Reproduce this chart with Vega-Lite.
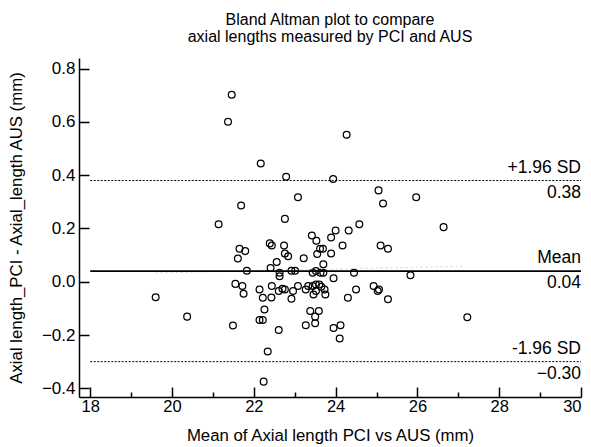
{
  "$schema": "https://vega.github.io/schema/vega-lite/v6.json",
  "autosize": "none",
  "width": 502,
  "height": 339,
  "padding": {"left": 79, "top": 58, "right": 10, "bottom": 50},
  "background": "white",
  "config": {
    "view": {"stroke": null},
    "font": "Liberation Sans",
    "axis": {
      "domainColor": "black",
      "domainWidth": 1.5,
      "tickColor": "black",
      "tickWidth": 1.5,
      "labelColor": "black",
      "titleColor": "black",
      "labelFont": "Liberation Sans",
      "titleFont": "Liberation Sans",
      "labelFontSize": 16.5,
      "titleFontSize": 16.8,
      "titleFontWeight": "normal",
      "grid": false
    }
  },
  "title": {
    "text": ["Bland Altman plot to compare", "axial lengths measured by PCI and AUS"],
    "font": "Liberation Sans",
    "fontSize": 16,
    "fontWeight": "normal",
    "color": "black",
    "lineHeight": 17,
    "anchor": "middle",
    "offset": 13
  },
  "datasets": {
    "pairs": [
      {"mean": 21.46, "diff": 0.702}, {"mean": 21.37, "diff": 0.601}, {"mean": 24.27, "diff": 0.552},
      {"mean": 22.17, "diff": 0.444}, {"mean": 22.79, "diff": 0.394}, {"mean": 23.94, "diff": 0.386},
      {"mean": 25.05, "diff": 0.343}, {"mean": 23.08, "diff": 0.317}, {"mean": 25.16, "diff": 0.294},
      {"mean": 21.69, "diff": 0.286}, {"mean": 22.76, "diff": 0.236}, {"mean": 21.14, "diff": 0.216},
      {"mean": 24.58, "diff": 0.216}, {"mean": 24.32, "diff": 0.192}, {"mean": 24.0, "diff": 0.192},
      {"mean": 23.42, "diff": 0.174}, {"mean": 23.89, "diff": 0.166}, {"mean": 23.53, "diff": 0.154},
      {"mean": 22.39, "diff": 0.144}, {"mean": 22.44, "diff": 0.136}, {"mean": 22.74, "diff": 0.136},
      {"mean": 24.17, "diff": 0.136}, {"mean": 25.1, "diff": 0.136}, {"mean": 25.28, "diff": 0.124},
      {"mean": 21.65, "diff": 0.124}, {"mean": 21.79, "diff": 0.115}, {"mean": 23.62, "diff": 0.124},
      {"mean": 23.69, "diff": 0.124}, {"mean": 23.55, "diff": 0.104}, {"mean": 23.89, "diff": 0.106},
      {"mean": 22.76, "diff": 0.106}, {"mean": 22.84, "diff": 0.096}, {"mean": 21.61, "diff": 0.087},
      {"mean": 23.22, "diff": 0.088}, {"mean": 22.56, "diff": 0.074}, {"mean": 23.7, "diff": 0.066},
      {"mean": 22.41, "diff": 0.052}, {"mean": 21.83, "diff": 0.041}, {"mean": 22.63, "diff": 0.034},
      {"mean": 22.63, "diff": 0.021}, {"mean": 22.92, "diff": 0.041}, {"mean": 23.01, "diff": 0.041},
      {"mean": 23.44, "diff": 0.034}, {"mean": 23.52, "diff": 0.04}, {"mean": 23.63, "diff": 0.034},
      {"mean": 23.7, "diff": 0.034}, {"mean": 24.45, "diff": 0.034}, {"mean": 23.95, "diff": 0.013},
      {"mean": 21.55, "diff": -0.008}, {"mean": 21.72, "diff": -0.016}, {"mean": 21.75, "diff": -0.045},
      {"mean": 22.14, "diff": -0.029}, {"mean": 22.22, "diff": -0.06}, {"mean": 22.43, "diff": -0.059},
      {"mean": 22.44, "diff": -0.016}, {"mean": 22.61, "diff": -0.035}, {"mean": 22.7, "diff": -0.026},
      {"mean": 22.76, "diff": -0.029}, {"mean": 22.92, "diff": -0.064}, {"mean": 22.96, "diff": -0.035},
      {"mean": 23.08, "diff": -0.016}, {"mean": 23.27, "diff": -0.029}, {"mean": 23.33, "diff": -0.016},
      {"mean": 23.44, "diff": -0.016}, {"mean": 23.52, "diff": -0.01}, {"mean": 23.6, "diff": -0.01},
      {"mean": 23.46, "diff": -0.048}, {"mean": 23.52, "diff": -0.035}, {"mean": 23.73, "diff": -0.029},
      {"mean": 23.75, "diff": -0.048}, {"mean": 23.65, "diff": -0.019}, {"mean": 24.5, "diff": -0.029},
      {"mean": 24.3, "diff": -0.06}, {"mean": 24.93, "diff": -0.016}, {"mean": 25.06, "diff": -0.029},
      {"mean": 25.03, "diff": -0.035}, {"mean": 25.28, "diff": -0.066}, {"mean": 19.6, "diff": -0.058},
      {"mean": 20.37, "diff": -0.131}, {"mean": 21.49, "diff": -0.164}, {"mean": 22.14, "diff": -0.144},
      {"mean": 22.22, "diff": -0.144}, {"mean": 22.26, "diff": -0.104}, {"mean": 22.61, "diff": -0.181},
      {"mean": 23.38, "diff": -0.11}, {"mean": 23.59, "diff": -0.11}, {"mean": 23.5, "diff": -0.131},
      {"mean": 23.5, "diff": -0.156}, {"mean": 23.27, "diff": -0.163}, {"mean": 23.95, "diff": -0.174},
      {"mean": 24.12, "diff": -0.163}, {"mean": 24.1, "diff": -0.213}, {"mean": 22.34, "diff": -0.262},
      {"mean": 22.24, "diff": -0.375}, {"mean": 25.97, "diff": 0.317}, {"mean": 26.64, "diff": 0.205},
      {"mean": 25.83, "diff": 0.024}, {"mean": 27.22, "diff": -0.133}
    ],
    "limits": [
      {"stat": "+1.96 SD", "value": 0.38, "kind": "limit"},
      {"stat": "Mean", "value": 0.04, "kind": "mean"},
      {"stat": "-1.96 SD", "value": -0.30, "kind": "limit"}
    ],
    "trend": [
      {"mean": 19.6, "diff": 0.033},
      {"mean": 27.1, "diff": 0.058}
    ]
  },
  "layer": [
    {
      "data": {"name": "pairs"},
      "mark": {"type": "point", "shape": "circle", "filled": false, "stroke": "black", "strokeWidth": 1.25, "size": 46, "opacity": 1},
      "encoding": {
        "x": {"field": "mean", "type": "quantitative",
          "scale": {"domain": [17.726, 30], "nice": false, "zero": false},
          "axis": {"orient": "bottom", "values": [18, 19, 20, 21, 22, 23, 24, 25, 26, 27, 28, 29, 30],
            "tickSize": {"condition": {"test": "datum.value % 2 === 0", "value": -10}, "value": -5},
            "labelExpr": "datum.value % 2 === 0 ? datum.label : ''",
            "labelPadding": 11, "format": "d",
            "title": "Mean of Axial length PCI vs AUS (mm)", "titlePadding": 13}},
        "y": {"field": "diff", "type": "quantitative",
          "scale": {"domain": [-0.4327, 0.84], "nice": false, "zero": false},
          "axis": {"orient": "left", "values": [-0.4, -0.3, -0.2, -0.1, 0, 0.1, 0.2, 0.3, 0.4, 0.5, 0.6, 0.7, 0.8],
            "tickSize": {"condition": {"test": "round(datum.value * 10) % 2 === 0", "value": -10}, "value": -5},
            "labelExpr": "round(datum.value * 10) % 2 === 0 ? datum.label : ''",
            "labelPadding": 14, "labelFontSize": 17, "format": ".1f",
            "title": "Axial length_PCI - Axial_length AUS (mm)", "titlePadding": 16}}
      }
    },
    {
      "data": {"name": "trend"},
      "mark": {"type": "line", "stroke": "#aaaaaa", "strokeWidth": 1, "strokeDash": [2, 3], "opacity": 0.5},
      "encoding": {
        "x": {"field": "mean", "type": "quantitative"},
        "y": {"field": "diff", "type": "quantitative"}
      }
    },
    {
      "data": {"name": "limits"},
      "transform": [{"filter": "datum.kind === 'limit'"}],
      "mark": {"type": "rule", "stroke": "black", "strokeWidth": 1, "strokeDash": [2, 1.5]},
      "encoding": {
        "y": {"field": "value", "type": "quantitative"},
        "x": {"datum": 18, "type": "quantitative"},
        "x2": {"datum": 30}
      }
    },
    {
      "data": {"name": "limits"},
      "transform": [{"filter": "datum.kind === 'mean'"}],
      "mark": {"type": "rule", "stroke": "black", "strokeWidth": 1.8},
      "encoding": {
        "y": {"field": "value", "type": "quantitative"},
        "x": {"datum": 18, "type": "quantitative"},
        "x2": {"datum": 30}
      }
    },
    {
      "data": {"name": "limits"},
      "mark": {"type": "text", "align": "right", "baseline": "alphabetic", "dy": -8, "fontSize": 17.5, "color": "black"},
      "encoding": {
        "y": {"field": "value", "type": "quantitative"},
        "x": {"datum": 30, "type": "quantitative"},
        "text": {"field": "stat"}
      }
    },
    {
      "data": {"name": "limits"},
      "mark": {"type": "text", "align": "right", "baseline": "alphabetic", "dy": 17, "fontSize": 17.5, "color": "black"},
      "encoding": {
        "y": {"field": "value", "type": "quantitative"},
        "x": {"datum": 30, "type": "quantitative"},
        "text": {"field": "value", "format": ".2f"}
      }
    }
  ]
}
